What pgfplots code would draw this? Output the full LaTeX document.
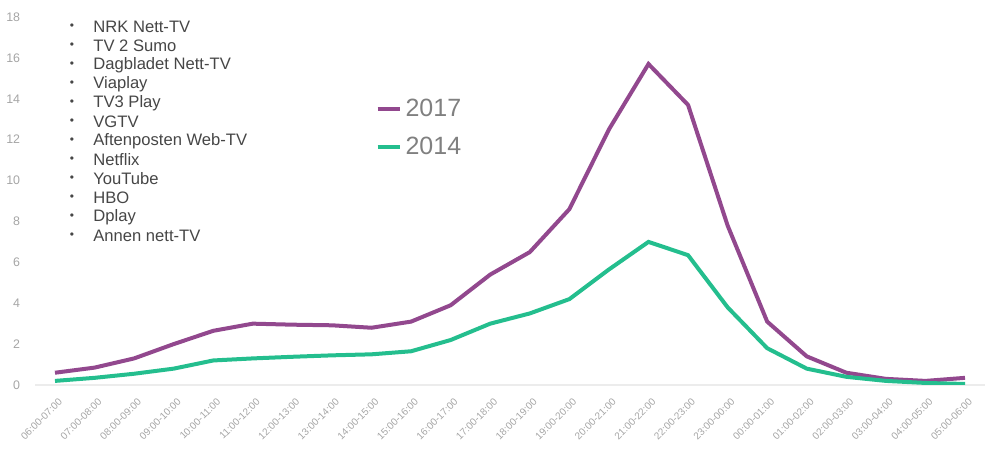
\documentclass[border=0pt]{standalone}
\usepackage{fontspec}
\setmainfont{Liberation Sans}
\usepackage{pgfplots}
\pgfplotsset{compat=1.18}
\definecolor{c17}{RGB}{146,72,142}
\definecolor{c14}{RGB}{36,190,142}
\definecolor{tickc}{RGB}{165,165,165}
\definecolor{txt}{RGB}{70,70,70}
\definecolor{legc}{RGB}{128,128,128}
\begin{document}
\begin{tikzpicture}
\path[use as bounding box] (-17.6pt,-34.5pt) rectangle (486.4pt,192.5pt);
\begin{axis}[
  at={(0,0)}, anchor=south west,
  scale only axis, width=474.8pt, height=184pt,
  xmin=-0.5, xmax=23.5, ymin=0, ymax=18,
  ytick={0,2,...,18},
  xtick={0,...,23},
  xticklabels={06:00-07:00,07:00-08:00,08:00-09:00,09:00-10:00,10:00-11:00,11:00-12:00,12:00-13:00,13:00-14:00,14:00-15:00,15:00-16:00,16:00-17:00,17:00-18:00,18:00-19:00,19:00-20:00,20:00-21:00,21:00-22:00,22:00-23:00,23:00-00:00,00:00-01:00,01:00-02:00,02:00-03:00,03:00-04:00,04:00-05:00,05:00-06:00},
  axis x line*=bottom, axis y line*=left,
  x axis line style={draw=gray!15, line width=0.6pt, -},
  y axis line style={draw=none},
  major tick length=0pt,
  tick style={draw=none},
  /pgf/number format/assume math mode=true,
  yticklabel style={font=\fontsize{6.2}{7}\selectfont, text=tickc, xshift=-4pt},
  xticklabel style={font=\fontsize{5}{6}\selectfont, text=tickc, rotate=45, anchor=north east, yshift=-2pt},
  legend style={draw=none, fill=none, at={(0.358,0.79)}, anchor=north west,
     font=\fontsize{12.5}{14}\selectfont, text=legc, row sep=5pt, inner sep=0pt},
  legend cell align=left,
  legend image code/.code={\draw[#1, line width=2pt] (0pt,0pt) -- (11pt,0pt);},
]
\addplot[c17, line width=2pt] coordinates {
(0,0.6) (1,0.85) (2,1.3) (3,2.0) (4,2.65) (5,3.0) (6,2.95) (7,2.92) (8,2.8) (9,3.1)
(10,3.9) (11,5.4) (12,6.5) (13,8.6) (14,12.5) (15,15.7) (16,13.7) (17,7.8) (18,3.1)
(19,1.4) (20,0.6) (21,0.3) (22,0.2) (23,0.35)};
\addlegendentry{2017}
\addplot[c14, line width=2pt] coordinates {
(0,0.2) (1,0.35) (2,0.55) (3,0.8) (4,1.2) (5,1.3) (6,1.38) (7,1.45) (8,1.5) (9,1.65)
(10,2.2) (11,3.0) (12,3.5) (13,4.2) (14,5.65) (15,7.0) (16,6.35) (17,3.8) (18,1.8)
(19,0.8) (20,0.4) (21,0.2) (22,0.1) (23,0.05)};
\addlegendentry{2014}
\end{axis}
\foreach \t [count=\i from 0] in {NRK Nett-TV,TV 2 Sumo,Dagbladet Nett-TV,Viaplay,TV3 Play,VGTV,Aftenposten Web-TV,Netflix,YouTube,HBO,Dplay,Annen nett-TV}{
  \node[anchor=center, text=txt, font=\fontsize{6}{7}\selectfont, inner sep=0pt] at (18.4pt,{179pt-9.5pt*\i}) {•};
  \node[anchor=west, text=txt, font=\fontsize{8.3}{9}\selectfont, inner sep=0pt] at (28.9pt,{179pt-9.5pt*\i}) {\t};
}
\end{tikzpicture}
\end{document}
